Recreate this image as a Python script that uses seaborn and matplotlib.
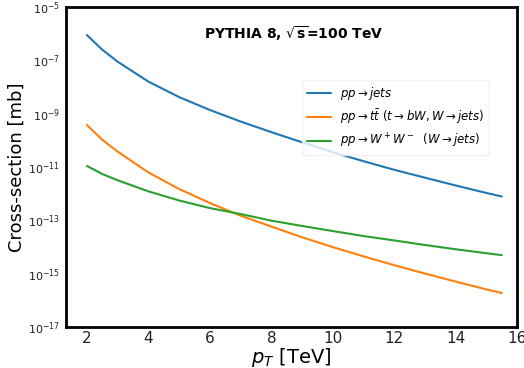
import matplotlib
matplotlib.use("Agg")
import matplotlib.pyplot as plt
import matplotlib.ticker as mticker
import seaborn as sns
import pandas as pd

pt = [2, 2.5, 3, 4, 5, 6, 7, 8, 9, 10, 11, 12, 13, 14, 15, 15.5]
jets = [8.9e-7, 2.5e-7, 8.9e-8, 1.6e-8, 4.2e-9, 1.38e-9, 5.1e-10, 2.04e-10,
        8.5e-11, 3.6e-11, 1.66e-11, 7.9e-12, 4.0e-12, 2.04e-12, 1.07e-12, 7.9e-13]
ttbar = [3.8e-10, 1.05e-10, 3.8e-11, 6.3e-12, 1.51e-12, 4.5e-13, 1.51e-13, 5.9e-14,
         2.34e-14, 1.0e-14, 4.5e-15, 2.1e-15, 1.02e-15, 5.1e-16, 2.6e-16, 1.9e-16]
ww = [1.1e-11, 5.5e-12, 3.2e-12, 1.23e-12, 5.6e-13, 2.9e-13, 1.74e-13, 9.8e-14,
      6.2e-14, 4.0e-14, 2.6e-14, 1.78e-14, 1.2e-14, 8.3e-15, 5.9e-15, 5.0e-15]

labels = [r'$pp\rightarrow jets$',
          r'$pp\rightarrow t\bar{t}\ (t\rightarrow bW, W\rightarrow jets)$',
          r'$pp\rightarrow W^+W^-\ \ (W\rightarrow jets)$']
yticks = [1e-17, 1e-15, 1e-13, 1e-11, 1e-9, 1e-7, 1e-5]

df = pd.concat([
    pd.DataFrame({'pt': pt, 'xs': jets, 'proc': labels[0]}),
    pd.DataFrame({'pt': pt, 'xs': ttbar, 'proc': labels[1]}),
    pd.DataFrame({'pt': pt, 'xs': ww, 'proc': labels[2]}),
])

sns.set_style("white")
plt.rcParams['font.family'] = ['DejaVu Sans']
plt.rcParams['text.color'] = 'black'
plt.rcParams['axes.labelcolor'] = 'black'

fig = plt.figure(figsize=(5.24, 3.68), dpi=100)
ax = fig.add_axes([0.126, 0.111, 0.861, 0.870])
sns.lineplot(data=df, x='pt', y='xs', hue='proc', palette=sns.color_palette('tab10', 3),
             linewidth=1.5, ax=ax)
ax.set_yscale('log')
ax.set_ylim(1e-17, 1e-5)
ax.set_xlim(1.32, 16)
ax.set_yticks(yticks)
ax.yaxis.set_minor_locator(mticker.NullLocator())
ax.xaxis.set_major_locator(mticker.MultipleLocator(2))
ax.xaxis.set_minor_locator(mticker.MultipleLocator(0.5))
ax.tick_params(axis='both', which='both', direction='in', color='#aaaaaa', labelcolor='#222222')
ax.tick_params(axis='x', which='major', length=5, labelsize=11, pad=3)
ax.tick_params(axis='x', which='minor', length=3)
ax.tick_params(axis='y', which='major', length=3, labelsize=8, pad=4)
for s in ax.spines.values():
    s.set_linewidth(2)
    s.set_color('black')
ax.set_xlabel(r'$p_T$ [TeV]', fontsize=14, labelpad=0)
ax.set_ylabel('Cross-section [mb]', fontsize=13, labelpad=2)
ax.text(0.505, 0.916, r'PYTHIA 8, $\mathbf{\sqrt{s}}$=100 TeV', transform=ax.transAxes,
        ha='center', va='center', fontsize=10, fontweight='bold', color='black')
leg = ax.legend(title=None, loc='upper right', bbox_to_anchor=(0.95, 0.79),
                fontsize=8.5, frameon=True)
leg.get_frame().set_edgecolor('#eeeeee')
fig.savefig('out.png', dpi=100)
